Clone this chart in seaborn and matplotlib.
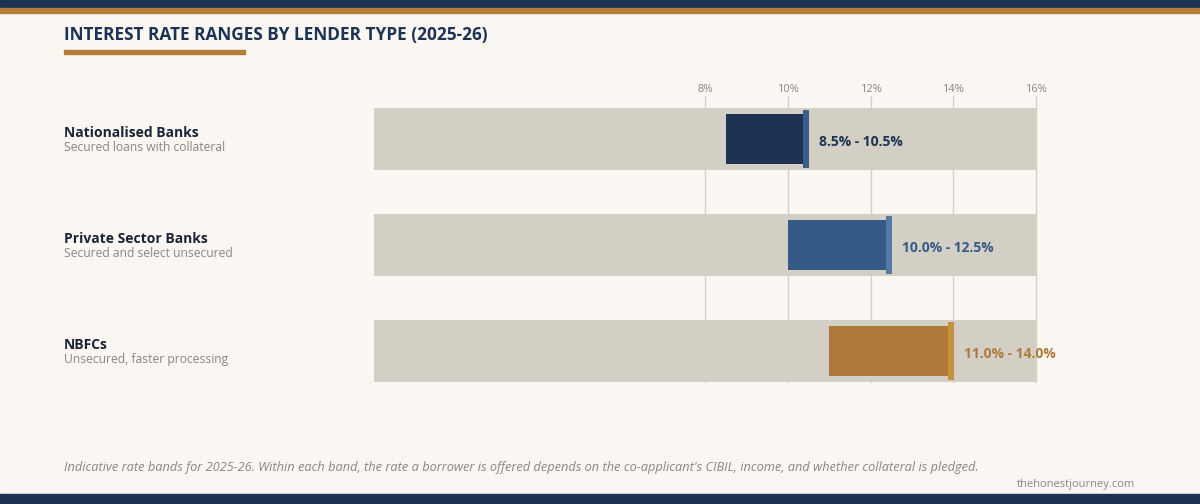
import matplotlib
matplotlib.use("Agg")
import matplotlib.pyplot as plt
import seaborn as sns
import pandas as pd

# data
lenders = ['Nationalised Banks', 'Private Sector Banks', 'NBFCs']
subtitles = ['Secured loans with collateral', 'Secured and select unsecured', 'Unsecured, faster processing']
rate_low = [8.5, 10.0, 11.0]
rate_high = [10.5, 12.5, 14.0]
axis_max = 16
tick_vals = [8, 10, 12, 14, 16]

bar_colors = ['#1c3353', '#365a87', '#ae7a3c']
cap_colors = ['#3b5d8c', '#5578a5', '#c4913f']
label_colors = ['#1c3353', '#365a87', '#ae7a3c']

BG = '#faf7f2'
TRACK = '#d3cfc4'
NAVY = '#1c3353'
GOLD = '#b37d3c'
GREY = '#8a877f'

sns.set_theme(style='white')
plt.rcParams['font.family'] = ['Open Sans', 'DejaVu Sans']

df = pd.DataFrame({'lender': lenders, 'track': [axis_max] * len(lenders)})

fig = plt.figure(figsize=(12, 5.04), dpi=100, facecolor=BG)
ax = fig.add_axes([374 / 1200, 122 / 504, 662 / 1200, 286 / 504])
ax.set_facecolor(BG)

# grid lines behind everything
for t in tick_vals:
    ax.axvline(t, color=TRACK, lw=1, zorder=0, clip_on=False)

# background track
sns.barplot(data=df, x='track', y='lender', color=TRACK, width=0.585,
            saturation=1, linewidth=0, ax=ax, zorder=1)

# range bars + end caps
for i in range(len(lenders)):
    ax.barh(i, rate_high[i] - rate_low[i], left=rate_low[i], height=0.48,
            color=bar_colors[i], linewidth=0, zorder=2)
    ax.barh(i, 0.145, left=rate_high[i] - 0.12, height=0.54,
            color=cap_colors[i], linewidth=0, zorder=3)
    ax.text(rate_high[i] + 0.25, i + 0.025, f'{rate_low[i]:.1f}% - {rate_high[i]:.1f}%',
            va='center', ha='left', fontsize=10, fontweight='bold',
            color=label_colors[i], zorder=4)

ax.set_xlim(0, axis_max)
ax.set_ylim(2.2925, -0.4057)
ax.set_xticks(tick_vals)
ax.set_xticklabels([f'{t}%' for t in tick_vals])
ax.xaxis.tick_top()
ax.tick_params(axis='x', length=0, pad=1, labelsize=8, labelcolor=GREY)
ax.set_yticks([])
ax.set_xlabel('')
ax.set_ylabel('')
for s in ax.spines.values():
    s.set_visible(False)

# row labels on the left
for i in range(len(lenders)):
    yc = (504 - (139 + 106 * i)) / 504
    fig.text(64 / 1200, yc + 0.012, lenders[i], fontsize=10, fontweight='bold',
             color='#1a2436', va='center', ha='left')
    fig.text(64 / 1200, yc - 0.017, subtitles[i], fontsize=8.7, color=GREY,
             va='center', ha='left')

# header bands
fig.patches.append(plt.Rectangle((0, 1 - 8 / 504), 1, 8 / 504, transform=fig.transFigure,
                                 color=NAVY, zorder=5))
fig.patches.append(plt.Rectangle((0, 1 - 13 / 504), 1, 5 / 504, transform=fig.transFigure,
                                 color=GOLD, zorder=5))
fig.patches.append(plt.Rectangle((0, 0), 1, 10 / 504, transform=fig.transFigure,
                                 color=NAVY, zorder=5))

fig.text(64 / 1200, 1 - 35 / 504, 'INTEREST RATE RANGES BY LENDER TYPE (2025-26)',
         fontsize=12.4, fontweight='bold', color=NAVY, va='center', ha='left')
fig.patches.append(plt.Rectangle((64 / 1200, 1 - 54 / 504), 181 / 1200, 4 / 504,
                                 transform=fig.transFigure, color=GOLD, zorder=5))

fig.text(64 / 1200, 1 - 467 / 504,
         "Indicative rate bands for 2025-26. Within each band, the rate a borrower is offered "
         "depends on the co-applicant's CIBIL, income, and whether collateral is pledged.",
         fontsize=9.2, style='italic', color=GREY, va='center', ha='left')
fig.text(1135 / 1200, 1 - 484 / 504, 'thehonestjourney.com', fontsize=8,
         color=GREY, va='center', ha='right')

fig.savefig('out.png', dpi=100, facecolor=BG)
